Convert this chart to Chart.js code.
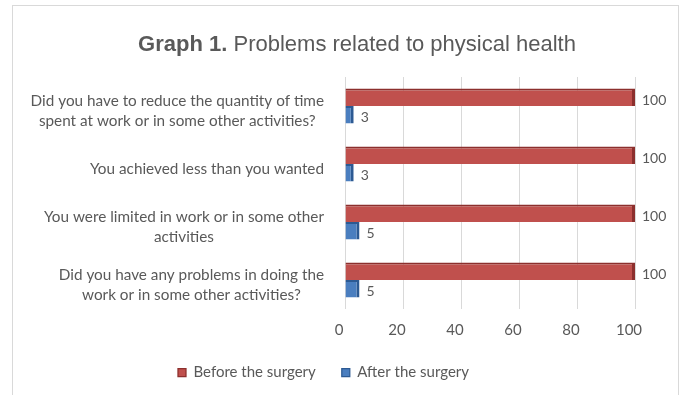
<!DOCTYPE html>
<html><head><meta charset="utf-8">
<script src="https://cdn.jsdelivr.net/npm/chart.js@4.4.0/dist/chart.umd.min.js"></script>
<style>html,body{margin:0;padding:0;background:#fff;}#wrap{width:681px;height:395px;position:relative;}</style>
</head><body><div id="wrap"><canvas id="c" width="681" height="395"></canvas></div>
<script>
const categories = [
  ["Did you have to reduce the quantity of time", "spent at work or in some other activities?"],
  ["You achieved less than you wanted"],
  ["You were limited in work or in some other", "activities"],
  ["Did you have any problems in doing the", "work or in some other activities?"]
];
const seriesNames = ["Before the surgery", "After the surgery"];
const beforeValues = [100, 100, 100, 100];
const afterValues = [3, 3, 5, 5];
const xTicks = [0, 20, 40, 60, 80, 100];
const titleBold = "Graph 1.";
const titleRest = " Problems related to physical health";

const TEXT = '#595959';
const LABEL_FONT = 'Lato';

const framePlugin = {
  id: 'frame',
  beforeDraw(chart) {
    const ctx = chart.ctx;
    ctx.save();
    ctx.fillStyle = '#fff';
    ctx.fillRect(0, 0, chart.width, chart.height);
    ctx.strokeStyle = '#d9d9d9';
    ctx.lineWidth = 1;
    ctx.strokeRect(12.5, 5.5, 666, 400);
    ctx.restore();
  }
};

const titlePlugin = {
  id: 'mixedTitle',
  afterDraw(chart) {
    const ctx = chart.ctx;
    ctx.save();
    ctx.fillStyle = TEXT;
    ctx.textBaseline = 'middle';
    const fb = 'bold 22px "Liberation Sans", Arial, sans-serif';
    const fn = '22px "Liberation Sans", Arial, sans-serif';
    ctx.font = fb;
    const w1 = ctx.measureText(titleBold).width;
    ctx.font = fn;
    const w2 = ctx.measureText(titleRest).width;
    const x = 357 - (w1 + w2) / 2;
    ctx.textAlign = 'left';
    ctx.font = fb;
    ctx.fillText(titleBold, x, 45);
    ctx.font = fn;
    ctx.fillText(titleRest, x + w1, 45);
    ctx.restore();
  }
};

const yLabelPlugin = {
  id: 'yLabels',
  afterDraw(chart) {
    const ctx = chart.ctx;
    const y = chart.scales.y;
    ctx.save();
    ctx.fillStyle = TEXT;
    ctx.font = '15.3px ' + LABEL_FONT;
    ctx.textAlign = 'center';
    ctx.textBaseline = 'middle';
    const right = 324;
    const lh = 19.5;
    categories.forEach((lines, i) => {
      const cy = y.getPixelForValue(i) + 5;
      const maxW = Math.max(...lines.map(l => ctx.measureText(l).width));
      const cx = right - maxW / 2;
      const top = cy - (lines.length - 1) * lh / 2;
      lines.forEach((l, j) => ctx.fillText(l, cx, top + j * lh));
    });
    ctx.restore();
  }
};

const valuePlugin = {
  id: 'values',
  afterDatasetsDraw(chart) {
    const ctx = chart.ctx;
    ctx.save();
    ctx.fillStyle = TEXT;
    ctx.font = '14px ' + LABEL_FONT;
    ctx.textAlign = 'left';
    ctx.textBaseline = 'middle';
    chart.data.datasets.forEach((ds, di) => {
      const meta = chart.getDatasetMeta(di);
      meta.data.forEach((bar, i) => {
        ctx.fillText(String(ds.data[i]), bar.x + 7, bar.y + 3);
      });
    });
    ctx.restore();
  }
};

new Chart(document.getElementById('c'), {
  type: 'bar',
  data: {
    labels: categories.map(c => c.join(' ')),
    datasets: [
      {
        label: seriesNames[0], data: beforeValues,
        backgroundColor: '#c0504d', borderColor: '#8c2f2d',
        borderWidth: {top: 2, right: 3, bottom: 0, left: 0}, borderSkipped: false,
        categoryPercentage: 0.6, barPercentage: 1
      },
      {
        label: seriesNames[1], data: afterValues,
        backgroundColor: '#4a7ebf', borderColor: '#2c5a93',
        borderWidth: {top: 2, right: 3, bottom: 0, left: 0}, borderSkipped: false,
        categoryPercentage: 0.6, barPercentage: 1
      }
    ]
  },
  options: {
    indexAxis: 'y',
    responsive: false,
    animation: false,
    devicePixelRatio: 1,
    layout: {padding: {left: 12, right: 46, top: 77, bottom: 5}},
    scales: {
      x: {
        min: 0, max: 100,
        afterBuildTicks(s) { s.ticks = xTicks.map(v => ({value: v})); },
        afterFit(s) { s.height = 30; },
        ticks: {color: TEXT, font: {family: LABEL_FONT, size: 15}, padding: 12, labelOffset: -6},
        grid: {color: '#d9d9d9', drawTicks: false},
        border: {display: false}
      },
      y: {
        afterFit(s) { s.width = 333; },
        ticks: {display: false},
        grid: {display: false},
        border: {display: false}
      }
    },
    plugins: {
      title: {display: false},
      tooltip: {enabled: false},
      legend: {
        position: 'bottom',
        labels: {
          color: TEXT, font: {family: LABEL_FONT, size: 15},
          boxWidth: 8, boxHeight: 8, padding: 26
        }
      }
    }
  },
  plugins: [framePlugin, titlePlugin, yLabelPlugin, valuePlugin]
});
</script>
</body></html>
